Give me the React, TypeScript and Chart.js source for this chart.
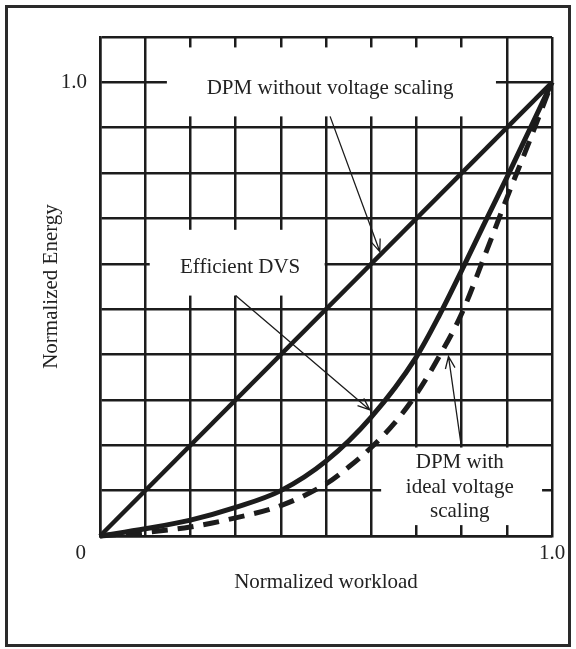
import React, { useEffect, useRef } from "react";
import { Chart, registerables } from "chart.js";

Chart.register(...registerables);

// ---- data ----
const straightX = [0, 1.0];
const straightY = [0, 1.0];

const dvsX = [0, 0.1, 0.2, 0.3, 0.4, 0.5, 0.6, 0.7, 0.75, 0.8, 0.85, 0.9, 0.95, 1.0];
const dvsY = [0, 0.016, 0.035, 0.063, 0.1, 0.165, 0.262, 0.395, 0.485, 0.585, 0.688, 0.79, 0.895, 1.0];

const idealX = [0, 0.1, 0.2, 0.3, 0.4, 0.5, 0.55, 0.6, 0.65, 0.7, 0.75, 0.8, 0.85, 0.9, 0.95, 1.0];
const idealY = [0, 0.008, 0.02, 0.04, 0.067, 0.115, 0.152, 0.195, 0.247, 0.313, 0.395, 0.49, 0.615, 0.745, 0.87, 1.0];

const seriesNames = ["DPM without voltage scaling", "Efficient DVS", "DPM with ideal voltage scaling"];
const tickLabels = ["0", "1.0"];
const xTitle = "Normalized workload";
const yTitle = "Normalized Energy";
const labelTop = ["DPM without voltage scaling"];
const labelMid = ["Efficient DVS"];
const labelLow = ["DPM with", "ideal voltage", "scaling"];

const INK = "#1c1c1c";
const TEXT = "#222222";
const FONT = '21px "Liberation Serif", "Times New Roman", serif';

const toPts = (xs: number[], ys: number[]) => xs.map((x, i) => ({ x, y: ys[i] }));

// annotation layout in data coordinates
const boxes = [
  { x0: 0.148, x1: 0.876, y0: 0.925, y1: 1.077 },
  { x0: 0.11, x1: 0.497, y0: 0.53, y1: 0.675 },
  { x0: 0.622, x1: 0.978, y0: 0.024, y1: 0.195 },
];
const texts = [
  { lines: labelTop, x: 0.509, y: 0.987, dy: 0 },
  { lines: labelMid, x: 0.31, y: 0.592, dy: 0 },
  { lines: labelLow, x: 0.796, y: 0.161, dy: 0.0535 },
];
const arrows = [
  { x0: 0.509, y0: 0.925, x1: 0.619, y1: 0.627 },
  { x0: 0.3, y0: 0.53, x1: 0.597, y1: 0.278 },
  { x0: 0.799, y0: 0.2, x1: 0.771, y1: 0.396 },
];

const boxPlugin = {
  id: "boxes",
  beforeDraw(chart: any) {
    const ctx = chart.ctx;
    ctx.save();
    ctx.fillStyle = "#ffffff";
    ctx.fillRect(0, 0, chart.width, chart.height);
    ctx.restore();
  },
  beforeDatasetsDraw(chart: any) {
    const { ctx, scales } = chart;
    const sx = scales.x, sy = scales.y;
    ctx.save();
    ctx.fillStyle = "#ffffff";
    for (const b of boxes) {
      const l = sx.getPixelForValue(b.x0);
      const r = sx.getPixelForValue(b.x1);
      const t = sy.getPixelForValue(b.y1);
      const bt = sy.getPixelForValue(b.y0);
      ctx.fillRect(l, t, r - l, bt - t);
    }
    ctx.restore();
  },
  afterDraw(chart: any) {
    const { ctx, scales, chartArea } = chart;
    const sx = scales.x, sy = scales.y;
    ctx.save();
    // arrows
    ctx.strokeStyle = INK;
    ctx.lineWidth = 1.3;
    for (const a of arrows) {
      const x0 = sx.getPixelForValue(a.x0), y0 = sy.getPixelForValue(a.y0);
      const x1 = sx.getPixelForValue(a.x1), y1 = sy.getPixelForValue(a.y1);
      ctx.beginPath();
      ctx.moveTo(x0, y0);
      ctx.lineTo(x1, y1);
      const ang = Math.atan2(y1 - y0, x1 - x0);
      const len = 13, spread = 0.38;
      ctx.moveTo(x1 - len * Math.cos(ang - spread), y1 - len * Math.sin(ang - spread));
      ctx.lineTo(x1, y1);
      ctx.lineTo(x1 - len * Math.cos(ang + spread), y1 - len * Math.sin(ang + spread));
      ctx.stroke();
    }
    // annotation texts
    ctx.fillStyle = TEXT;
    ctx.font = FONT;
    ctx.textAlign = "center";
    ctx.textBaseline = "middle";
    for (const t of texts) {
      t.lines.forEach((line, i) => {
        ctx.fillText(line, sx.getPixelForValue(t.x), sy.getPixelForValue(t.y - i * t.dy));
      });
    }
    // tick labels
    ctx.textAlign = "right";
    ctx.fillText(tickLabels[1], chartArea.left - 13, sy.getPixelForValue(1.0));
    ctx.fillText(tickLabels[0], chartArea.left - 14, chartArea.bottom + 17);
    ctx.textAlign = "center";
    ctx.fillText(tickLabels[1], sx.getPixelForValue(1.0), chartArea.bottom + 17);
    // axis titles
    ctx.fillText(xTitle, (chartArea.left + chartArea.right) / 2, chartArea.bottom + 46);
    ctx.save();
    ctx.translate(51, (chartArea.top + chartArea.bottom) / 2);
    ctx.rotate(-Math.PI / 2);
    ctx.fillText(yTitle, 0, 0);
    ctx.restore();
    // outer frame
    ctx.strokeStyle = "#2a2a2a";
    ctx.lineWidth = 3;
    ctx.strokeRect(6.5, 6.5, chart.width - 13, chart.height - 10);
    ctx.restore();
  },
};

export default function App() {
  const ref = useRef<HTMLCanvasElement | null>(null);
  useEffect(() => {
    if (!ref.current) return;
    const chart = new Chart(ref.current, {
      type: "scatter",
      data: {
        datasets: [
          {
            label: seriesNames[0],
            data: toPts(straightX, straightY),
            showLine: true,
            borderColor: INK,
            borderWidth: 4.5,
            pointRadius: 0,
            clip: false,
          },
          {
            label: seriesNames[1],
            data: toPts(dvsX, dvsY),
            showLine: true,
            borderColor: INK,
            borderWidth: 5,
            pointRadius: 0,
            cubicInterpolationMode: "monotone",
            clip: false,
          },
          {
            label: seriesNames[2],
            data: toPts(idealX, idealY),
            showLine: true,
            borderColor: INK,
            borderWidth: 5,
            borderDash: [16, 10],
            pointRadius: 0,
            cubicInterpolationMode: "monotone",
            clip: false,
          },
        ] as any,
      },
      options: {
        animation: false,
        responsive: false,
        devicePixelRatio: 1,
        layout: { padding: { left: 100, right: 24, top: 37, bottom: 113 } },
        plugins: { legend: { display: false }, tooltip: { enabled: false } },
        scales: {
          x: {
            type: "linear",
            min: 0,
            max: 1.0,
            ticks: { display: false, stepSize: 0.1 },
            grid: { color: INK, lineWidth: 2.5, drawTicks: false },
            border: { display: true, color: INK, width: 2.5 },
          },
          y: {
            type: "linear",
            min: 0,
            max: 1.1,
            ticks: { display: false, stepSize: 0.1 },
            grid: { color: INK, lineWidth: 2.5, drawTicks: false },
            border: { display: true, color: INK, width: 2.5 },
          },
        },
      } as any,
      plugins: [boxPlugin],
    });
    return () => chart.destroy();
  }, []);
  return (
    <div style={{ position: "absolute", left: 0, top: 0, width: 576, height: 649 }}>
      <canvas ref={ref} width={576} height={649} style={{ display: "block", width: 576, height: 649 }} />
    </div>
  );
}
